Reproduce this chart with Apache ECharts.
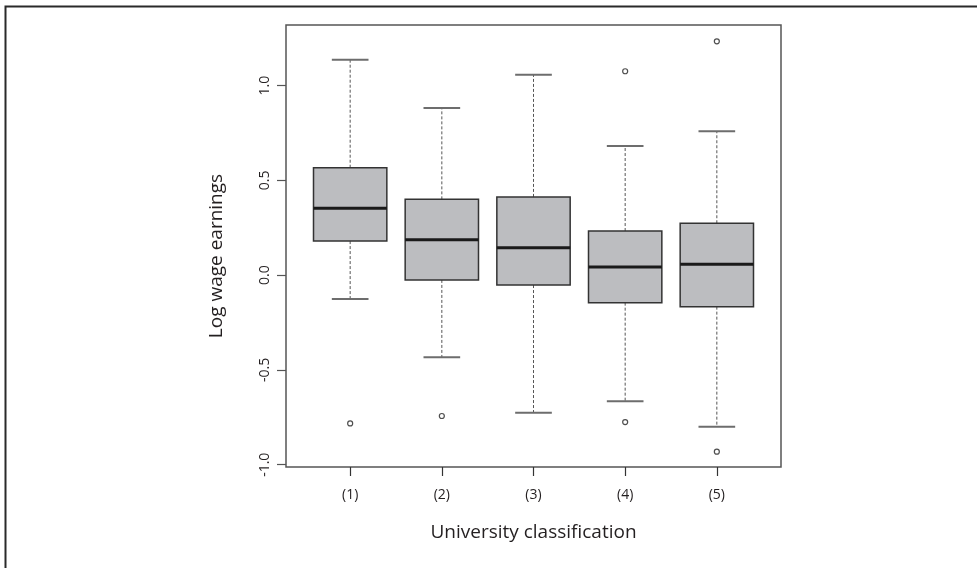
<!DOCTYPE html>
<html>
<head>
<meta charset="utf-8">
<script src="https://cdn.jsdelivr.net/npm/echarts@6/dist/echarts.min.js"></script>
<style>html,body{margin:0;padding:0;background:#fff;}#c{width:977px;height:568px;}</style>
</head>
<body>
<div id="c"></div>
<script>
var categories = ['(1)', '(2)', '(3)', '(4)', '(5)'];
var whiskerLow = [-0.126, -0.433, -0.726, -0.665, -0.800];
var q1 = [0.180, -0.025, -0.052, -0.145, -0.166];
var median = [0.353, 0.187, 0.145, 0.043, 0.058];
var q3 = [0.567, 0.400, 0.413, 0.233, 0.274];
var whiskerHigh = [1.136, 0.882, 1.058, 0.682, 0.759];
var outlierGroup = [1, 2, 4, 4, 5, 5];
var outlierValue = [-0.782, -0.743, 1.076, -0.775, 1.234, -0.931];
var yTicks = [-1.0, -0.5, 0.0, 0.5, 1.0];

var boxData = categories.map(function (c, i) {
  return [i + 1, whiskerLow[i], q1[i], median[i], q3[i], whiskerHigh[i]];
});
var outlierData = outlierGroup.map(function (g, i) { return [g, outlierValue[i]]; });

var FONT = '"Open Sans", "Noto Sans", sans-serif';
var chart = echarts.init(document.getElementById('c'));

function renderBox(params, api) {
  var x = api.value(0);
  var halfBox = 0.4, halfCap = 0.2;
  var pLow = api.coord([x, api.value(1)]);
  var pQ1 = api.coord([x, api.value(2)]);
  var pMed = api.coord([x, api.value(3)]);
  var pQ3 = api.coord([x, api.value(4)]);
  var pHigh = api.coord([x, api.value(5)]);
  var left = api.coord([x - halfBox, 0])[0];
  var right = api.coord([x + halfBox, 0])[0];
  var capL = api.coord([x - halfCap, 0])[0];
  var capR = api.coord([x + halfCap, 0])[0];
  var cx = pMed[0];
  var dash = { stroke: '#555', lineWidth: 1, lineDash: [3, 2] };
  var cap = { stroke: '#6d6d6d', lineWidth: 2 };
  return {
    type: 'group',
    children: [
      { type: 'line', shape: { x1: cx, y1: pQ3[1], x2: cx, y2: pHigh[1] }, style: dash },
      { type: 'line', shape: { x1: cx, y1: pQ1[1], x2: cx, y2: pLow[1] }, style: dash },
      { type: 'line', shape: { x1: capL, y1: pHigh[1], x2: capR, y2: pHigh[1] }, style: cap },
      { type: 'line', shape: { x1: capL, y1: pLow[1], x2: capR, y2: pLow[1] }, style: cap },
      { type: 'rect', shape: { x: left, y: pQ3[1], width: right - left, height: pQ1[1] - pQ3[1] },
        style: { fill: '#bcbdc0', stroke: '#333', lineWidth: 1.5 } },
      { type: 'line', shape: { x1: left, y1: pMed[1], x2: right, y2: pMed[1] },
        style: { stroke: '#1a1a1a', lineWidth: 3 } }
    ]
  };
}

chart.setOption({
  animation: false,
  backgroundColor: '#fff',
  graphic: [{
    type: 'rect', silent: true, z: 100,
    shape: { x: 5.5, y: 6.5, width: 1200, height: 1200 },
    style: { fill: 'none', stroke: '#2a2a2a', lineWidth: 2 }
  }],
  grid: {
    left: 286, right: 196, top: 25, bottom: 101,
    show: true, borderColor: '#555', borderWidth: 1.5, backgroundColor: '#fff'
  },
  xAxis: {
    type: 'value', min: 0.3, max: 5.7,
    name: 'University classification', nameLocation: 'middle', nameGap: 56,
    nameTextStyle: { fontFamily: FONT, fontSize: 19, color: '#231f20' },
    axisLine: { show: false, onZero: false },
    splitLine: { show: false },
    axisTick: { show: true, customValues: [1, 2, 3, 4, 5], length: 9, lineStyle: { color: '#333', width: 1.2 } },
    axisLabel: {
      customValues: [1, 2, 3, 4, 5], margin: 21,
      fontFamily: FONT, fontSize: 14, color: '#231f20',
      formatter: function (v) { return categories[Math.round(v) - 1]; }
    }
  },
  yAxis: {
    type: 'value', min: -1.012, max: 1.320,
    name: 'Log wage earnings', nameLocation: 'middle', nameGap: 60,
    nameTextStyle: { fontFamily: FONT, fontSize: 19, color: '#231f20', padding: [0, 20, 0, 0] },
    axisLine: { show: false, onZero: false },
    splitLine: { show: false },
    axisTick: { show: true, customValues: yTicks, length: 9, lineStyle: { color: '#555', width: 1.2 } },
    axisLabel: {
      customValues: yTicks, rotate: 90, margin: 14,
      fontFamily: FONT, fontSize: 14, color: '#231f20',
      formatter: function (v) { return v.toFixed(1); }
    }
  },
  series: [
    {
      type: 'custom', renderItem: renderBox, data: boxData,
      encode: { x: 0, y: [1, 2, 3, 4, 5] }, clip: false
    },
    {
      type: 'scatter', data: outlierData, symbol: 'circle', symbolSize: 5,
      itemStyle: { color: '#fff', borderColor: '#222', borderWidth: 1.2 }
    }
  ]
});
</script>
</body>
</html>
